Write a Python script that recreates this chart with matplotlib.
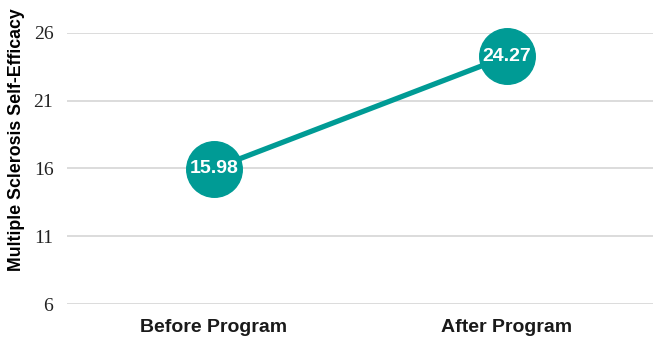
import matplotlib.pyplot as plt

# program scores
stages = ["Before Program", "After Program"]
efficacy = [15.98, 24.27]
y_ticks = [6, 11, 16, 21, 26]

teal = "#009b95"

fig = plt.figure(figsize=(6.53, 3.39), dpi=100)
ax = fig.add_axes([0.103, 0.103, 0.897, 0.8])

x = range(len(stages))
ax.plot(x, efficacy, color=teal, linewidth=3.8, marker="o", markersize=40,
        markerfacecolor=teal, markeredgecolor=teal, zorder=3, clip_on=False)
for i, v in zip(x, efficacy):
    ax.text(i, v, f"{v:.2f}", ha="center", va="center", color="white",
            fontsize=14, fontweight="bold", family=["Liberation Sans", "DejaVu Sans"], zorder=4)

ax.set_xlim(-0.5, 1.5)
ax.set_ylim(6, 26)
ax.set_yticks(y_ticks)
ax.set_xticks(list(x))
ax.set_xticklabels(stages, fontsize=14, fontweight="bold",
                   family=["Liberation Sans", "DejaVu Sans"], color="#1a1a1a")
for lbl in ax.get_yticklabels():
    lbl.set_family(["Liberation Serif", "DejaVu Serif"])
    lbl.set_fontsize(14)
    lbl.set_color("#222222")

# axis title sits a bit above the middle of the plot
fig.text(0.026, 0.587, "Multiple Sclerosis Self-Efficacy", rotation=90,
         ha="center", va="center", fontsize=12.8, fontweight="bold",
         family=["Liberation Sans Narrow", "Liberation Sans", "DejaVu Sans"])

ax.grid(axis="y", color="#d9d9d9", linewidth=1.3)
ax.set_axisbelow(True)
for s in ax.spines.values():
    s.set_visible(False)
ax.tick_params(length=0)
ax.tick_params(axis="x", pad=11)
ax.tick_params(axis="y", pad=10)

fig.savefig("out.png", dpi=100)
